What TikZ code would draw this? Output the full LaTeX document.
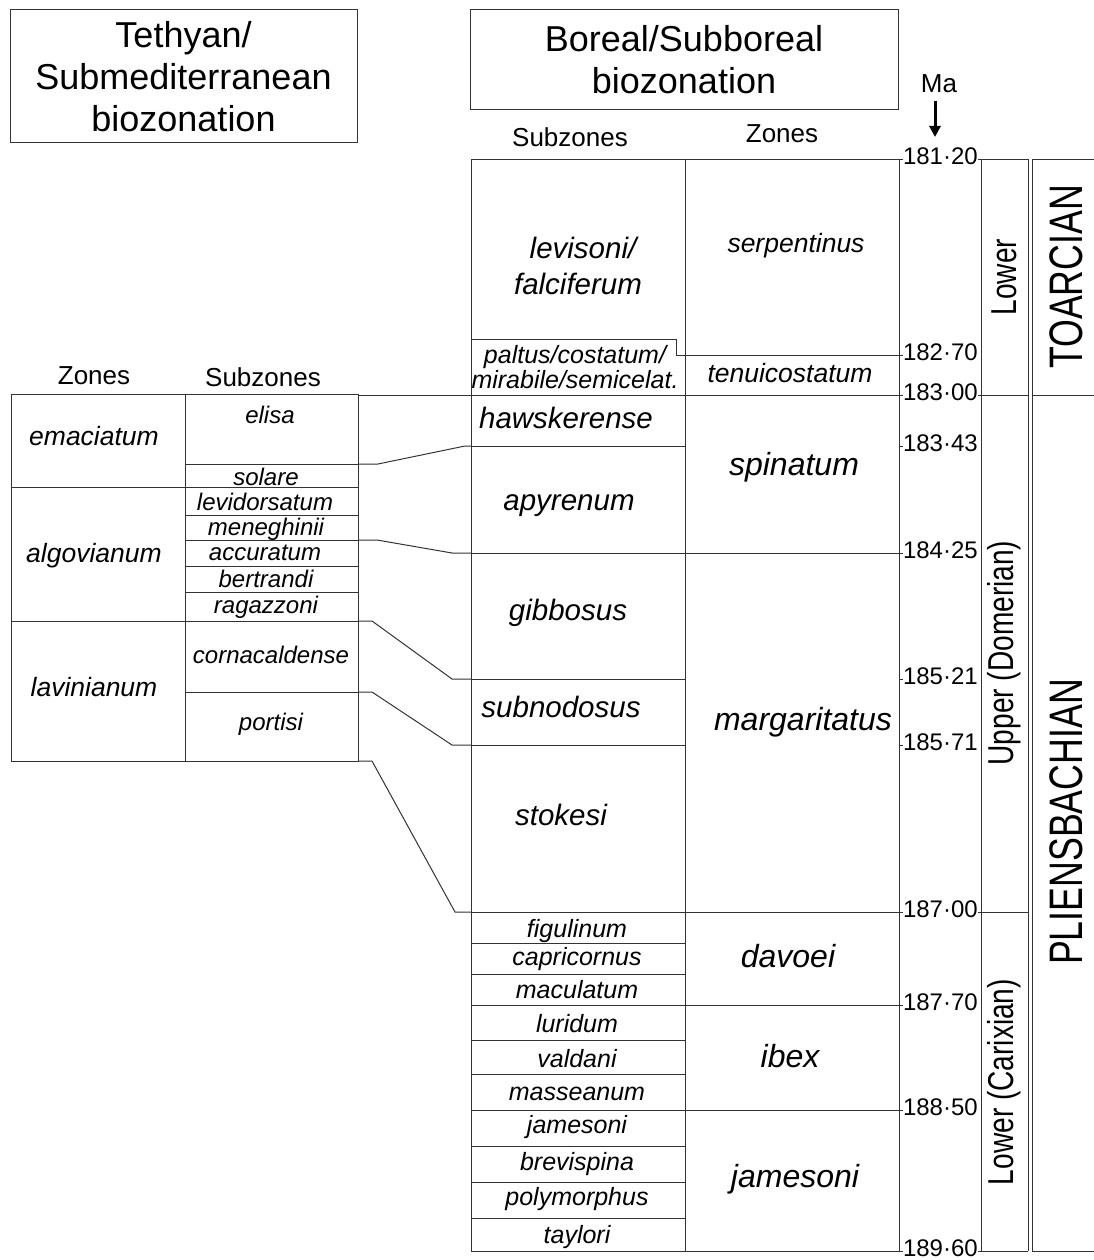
\documentclass[tikz,border=0pt]{standalone}
\usepackage{fontspec}
\setmainfont{Liberation Sans}
\usetikzlibrary{arrows.meta}
\begin{document}
\begin{tikzpicture}[x=1pt,y=-1pt,
  every node/.style={inner sep=0pt,outer sep=0pt},
  grid/.style={line width=1pt,draw=black!80},
  hdr/.style={draw=black!80,line width=1pt,font=\fontsize{36}{42}\selectfont,align=center},
  colhd/.style={font=\fontsize{26}{30}\selectfont,anchor=base},
  tzone/.style={font=\fontsize{26.5}{30}\selectfont\itshape,anchor=base},
  tsub/.style={font=\fontsize{24}{28}\selectfont\itshape,anchor=base},
  bsub/.style={font=\fontsize{29.5}{36}\selectfont\itshape,anchor=base},
  bsubs/.style={font=\fontsize{25}{25}\selectfont\itshape,anchor=base},
  bzone/.style={font=\fontsize{32}{36}\selectfont\itshape,anchor=base},
  bzones/.style={font=\fontsize{26.5}{30}\selectfont\itshape,anchor=base},
  numlab/.style={font=\fontsize{24}{28}\selectfont,anchor=base west},
  substage/.style={font=\fontsize{36}{40}\selectfont,rotate=90},
  stagelab/.style={font=\fontsize{47}{50}\selectfont,rotate=90}]
\useasboundingbox (0,0) rectangle (1094,1260);

% ---------- headers ----------
\node[hdr,minimum width=347,minimum height=133] (teth) at (183.5,76.5) {Tethyan/\\Submediterranean\\biozonation};
\node[hdr,minimum width=428,minimum height=100] (bor) at (684,60) {Boreal/Subboreal\\biozonation};
\node[font=\fontsize{26}{30}\selectfont,anchor=base] (ma) at (939,93) {Ma};
\coordinate (mastart) at (935,101);
\coordinate (matip) at (935,137);
\draw[line width=3pt,-{Triangle[width=11pt,length=11pt]}] (mastart) -- (matip);

\node[colhd] (tzh) at (94,384) {Zones};
\node[colhd] (tsh) at (263,386) {Subzones};
\node[colhd] (bsh) at (570,147) {Subzones};
\node[colhd] (bzh) at (782,143) {Zones};

% ---------- Tethyan table ----------
\draw[grid] (11,394) rectangle (185,761);
\draw[grid] (185,394) rectangle (358,761);
\draw[grid] (11,487) -- (185,487) (11,621) -- (185,621);
\foreach \yy in {464,487,515,540,566,592,621,692} \draw[grid] (185,\yy) -- (358,\yy);

\node[tzone] (emac) at (94,445) {emaciatum};
\node[tzone] (algo) at (94,562) {algovianum};
\node[tzone] (lavi) at (94,696) {lavinianum};
\node[tsub] (elisa) at (270,423) {elisa};
\node[tsub] (solare) at (266,485) {solare};
\node[tsub] (levid) at (265,510) {levidorsatum};
\node[tsub] (meneg) at (266,535) {meneghinii};
\node[tsub] (accur) at (265,560) {accuratum};
\node[tsub] (bertr) at (266,587) {bertrandi};
\node[tsub] (ragaz) at (266,613) {ragazzoni};
\node[tsub] (cornac) at (271,663) {cornacaldense};
\node[tsub] (portisi) at (271,730) {portisi};

% ---------- correlation lines ----------
\draw[grid] (358,464) -- (378,464) -- (465,446) -- (471,446);
\draw[grid] (358,540) -- (377,540) -- (452,553) -- (471,553);
\draw[grid] (358,621) -- (372,621) -- (452,679) -- (471,679);
\draw[grid] (358,692) -- (372,692) -- (452,745) -- (471,745);
\draw[grid] (358,761) -- (372,761) -- (455,912) -- (471,912);

% ---------- Boreal table ----------
\draw[grid] (471,159.5) -- (471,1251);
\draw[grid] (685,159.5) -- (685,1251);
\draw[grid] (899,159.5) -- (899,1251);
\draw[grid] (471,159.5) -- (903,159.5);
\draw[grid] (471,339) -- (676,339) -- (676,355) -- (903,355);
\draw[grid] (358,395) -- (903,395);
\draw[grid] (471,446) -- (685,446);
\draw[grid] (471,553) -- (903,553);
\draw[grid] (471,679) -- (685,679);
\draw[grid] (471,745) -- (685,745);
\draw[grid] (471,912) -- (903,912);
\draw[grid] (471,1005) -- (903,1005);
\draw[grid] (471,1110) -- (903,1110);
\draw[grid] (471,1251) -- (903,1251);
\foreach \yy in {943,974,1040,1074,1146,1182,1218} \draw[grid] (471,\yy) -- (685,\yy);
\foreach \yy in {446,679,745} \draw[grid] (899,\yy) -- (903,\yy);

\node[bsub,align=center,anchor=center] (levfal) at (578,266) {\hspace*{10pt}levisoni/\\falciferum};
\node[bsubs,align=center,anchor=center] (paltus) at (575,367) {paltus/costatum/\\mirabile/semicelat.};
\node[bsub] (hawsk) at (566,428) {hawskerense};
\node[bsub] (apyr) at (569,510) {apyrenum};
\node[bsub] (gibb) at (568,620) {gibbosus};
\node[bsub] (subn) at (561,717) {subnodosus};
\node[bsub] (stok) at (561,825) {stokesi};
\node[bsubs] (figu) at (577,937) {figulinum};
\node[bsubs] (capr) at (577,965) {capricornus};
\node[bsubs] (macu) at (577,998) {maculatum};
\node[bsubs] (luri) at (577,1032) {luridum};
\node[bsubs] (vald) at (577,1067) {valdani};
\node[bsubs] (mass) at (577,1100) {masseanum};
\node[bsubs] (jams) at (577,1133) {jamesoni};
\node[bsubs] (brev) at (577,1170) {brevispina};
\node[bsubs] (poly) at (577,1205) {polymorphus};
\node[bsubs] (tayl) at (577,1243) {taylori};

\node[bzones] (serp) at (796,252) {serpentinus};
\node[bzones] (tenu) at (790,382) {tenuicostatum};
\node[bzone] (spin) at (794,475) {spinatum};
\node[bzone] (marg) at (803,730) {margaritatus};
\node[bzone] (davo) at (788,967) {davoei};
\node[bzone] (ibex) at (790,1067) {ibex};
\node[bzone] (jamz) at (795,1187) {jamesoni};

% ---------- ages ----------
\node[numlab] (a1) at (903,165) {181·20};
\node[numlab] (a2) at (903,360.5) {182·70};
\node[numlab] (a3) at (903,400.5) {183·00};
\node[numlab] (a4) at (903,451.5) {183·43};
\node[numlab] (a5) at (903,558.5) {184·25};
\node[numlab] (a6) at (903,684.5) {185·21};
\node[numlab] (a7) at (903,750.5) {185·71};
\node[numlab] (a8) at (903,917.5) {187·00};
\node[numlab] (a9) at (903,1010.5) {187·70};
\node[numlab] (a10) at (903,1115.5) {188·50};
\node[numlab] (a11) at (903,1256.5) {189·60};

% ---------- substages and stages ----------
\draw[grid] (981,159.5) -- (981,1251);
\draw[grid] (1028,159.5) -- (1028,1251);
\foreach \yy in {159.5,395,912,1251} \draw[grid] (978,\yy) -- (1028,\yy);
\draw[grid] (1032,159.5) -- (1032,1251);
\foreach \yy in {159.5,395,1251} \draw[grid] (1032,\yy) -- (1094,\yy);

\node[substage] (lowT) at (1004.5,277) {\scalebox{0.78}[1]{Lower}};
\node[substage] (upP) at (1004.5,653) {\scalebox{0.78}[1]{Upper (Domerian)}};
\node[substage] (lowP) at (1004.5,1082) {\scalebox{0.78}[1]{Lower (Carixian)}};
\node[stagelab] (toar) at (1066,277) {\scalebox{0.76}[1]{TOARCIAN}};
\node[stagelab] (plie) at (1066,822) {\scalebox{0.76}[1]{PLIENSBACHIAN}};
\end{tikzpicture}
\end{document}
